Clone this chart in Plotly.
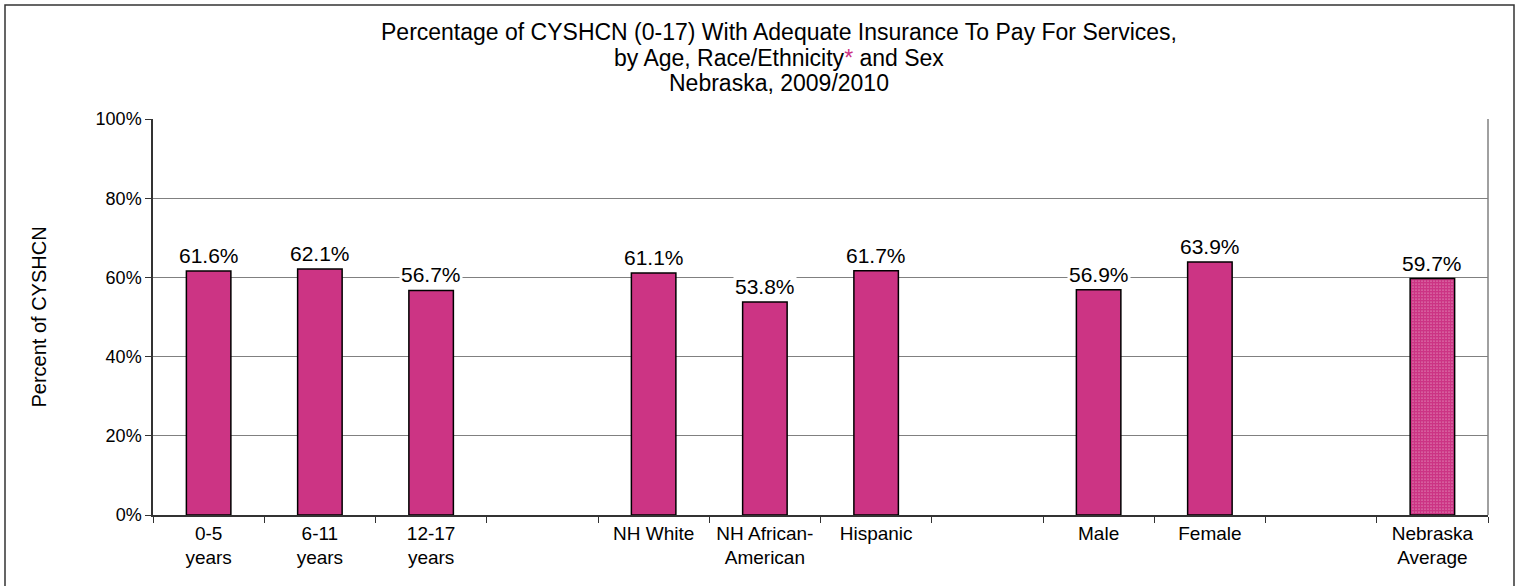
import plotly.graph_objects as go

# ---- data ----
age_labels = ["0-5<br>years", "6-11<br>years", "12-17<br>years"]
age_values = [61.6, 62.1, 56.7]
race_labels = ["NH White", "NH African-<br>American", "Hispanic"]
race_values = [61.1, 53.8, 61.7]
sex_labels = ["Male", "Female"]
sex_values = [56.9, 63.9]
avg_label = ["Nebraska<br>Average"]
avg_value = [59.7]
y_ticks = [0, 20, 40, 60, 80, 100]
y_tick_text = ["0%", "20%", "40%", "60%", "80%", "100%"]
title_lines = [
    "Percentage of CYSHCN (0-17) With Adequate Insurance To Pay For Services,",
    "by Age, Race/Ethnicity<span style=\"color:#CC3484\">*</span> and Sex",
    "Nebraska, 2009/2010",
]

MAGENTA = "#CC3484"
FONT = "Liberation Sans, Arial, sans-serif"

# plot-area geometry in pixels (used for paper-coordinate conversions)
L, R, T, B = 153, 1488, 119, 515
PW, PH = R - L, B - T

gap1, gap2, gap3 = " ", "  ", "   "
categories = age_labels + [gap1] + race_labels + [gap2] + sex_labels + [gap3] + avg_label

main_x = age_labels + race_labels + sex_labels
main_y = age_values + race_values + sex_values

fig = go.Figure()
fig.add_trace(go.Bar(
    x=main_x, y=main_y,
    marker=dict(color=MAGENTA, line=dict(color="black", width=1.5)),
    hoverinfo="x+y", showlegend=False,
))
fig.add_trace(go.Bar(
    x=avg_label, y=avg_value,
    marker=dict(color=MAGENTA, line=dict(color="black", width=1.5),
                pattern=dict(shape=".", fgcolor=MAGENTA, bgcolor="white",
                             size=3, solidity=0.85, fillmode="replace")),
    hoverinfo="x+y", showlegend=False,
))

# value labels with white background
for xv, yv in zip(main_x + avg_label, main_y + avg_value):
    fig.add_annotation(x=xv, y=yv, text=f"{yv:.1f}%", showarrow=False,
                       yanchor="bottom", yshift=2, bgcolor="white",
                       font=dict(family=FONT, size=21, color="black"))

# title lines
for i, line in enumerate(title_lines):
    cy = 32 + 25.5 * i
    fig.add_annotation(xref="paper", yref="paper",
                       x=(779 - L) / PW, y=(B - cy) / PH,
                       xanchor="center", yanchor="middle", showarrow=False,
                       text=line, font=dict(family=FONT, size=23, color="black"))

# right border of plot area
fig.add_shape(type="line", xref="paper", yref="paper", x0=1, x1=1, y0=0, y1=1,
              line=dict(color="#808080", width=1.5))
# outer frame of the chart
fig.add_shape(type="rect", xref="paper", yref="paper",
              x0=(5 - L) / PW, x1=(1514 - L) / PW,
              y0=-0.3, y1=(B - 5) / PH,
              line=dict(color="#333333", width=1.5), fillcolor="rgba(0,0,0,0)",
              layer="below")

fig.update_layout(
    width=1520, height=586,
    margin=dict(l=L, r=1520 - R, t=T, b=586 - B),
    paper_bgcolor="white", plot_bgcolor="white",
    barmode="overlay", bargap=0.6,
    font=dict(family=FONT, color="black"),
    xaxis=dict(
        type="category", categoryorder="array", categoryarray=categories,
        tickson="boundaries", ticks="outside", ticklen=6, tickcolor="#333333",
        showline=True, linecolor="#333333", linewidth=1.5,
        showgrid=False, tickfont=dict(family=FONT, size=19, color="black"),
        fixedrange=True,
    ),
    yaxis=dict(
        range=[0, 100], tickvals=y_ticks, ticktext=y_tick_text,
        ticks="outside", ticklen=6, tickcolor="#333333",
        showline=True, linecolor="#333333", linewidth=1.5,
        showgrid=True, gridcolor="#808080", gridwidth=1.2, zeroline=False,
        tickfont=dict(family=FONT, size=18, color="black"),
        title=dict(text="Percent of CYSHCN", standoff=44,
                   font=dict(family=FONT, size=20, color="black")),
        fixedrange=True,
    ),
)

fig.write_html("out.html", config={"displayModeBar": False},
               post_script="document.body.style.margin='0px';document.body.style.overflow='hidden';")
